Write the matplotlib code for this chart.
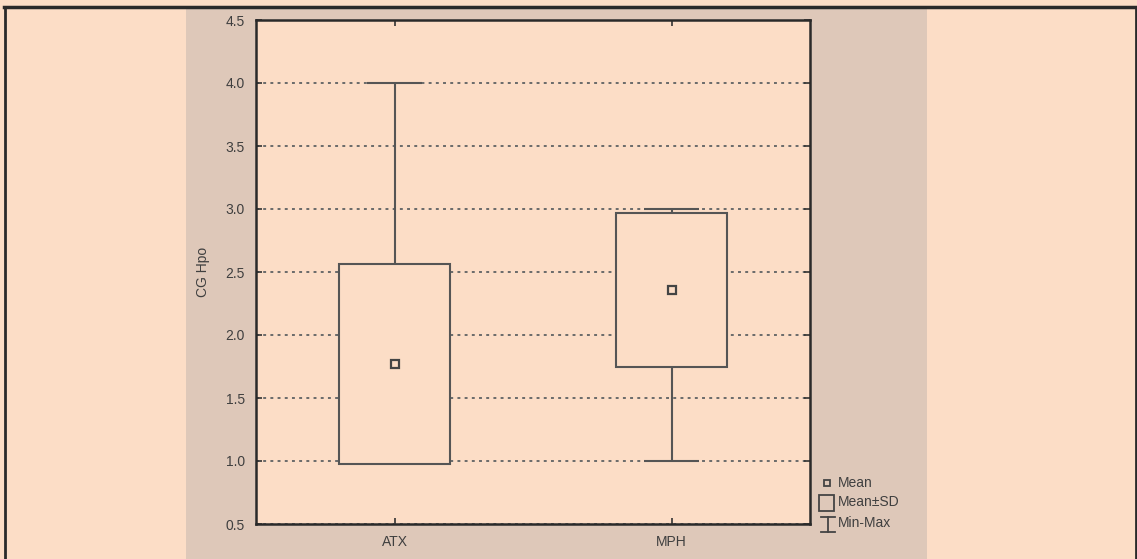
import matplotlib
matplotlib.use("Agg")
import matplotlib.pyplot as plt
from matplotlib.patches import Rectangle
from matplotlib.lines import Line2D

# data
groups = ["ATX", "MPH"]
means = [1.77, 2.36]
sds = [0.795, 0.61]
mins = [1.0, 1.0]
maxs = [4.0, 3.0]

W, H = 1137, 559
PEACH = "#FCDDC6"
PANEL = "#DEC8B9"
INK = "#555555"
TXT = "#3f3f3f"

plt.rcParams['font.family'] = ['Liberation Sans', 'DejaVu Sans']

fig = plt.figure(figsize=(W / 100, H / 100), dpi=100, facecolor=PEACH)

def fx(px):
    return px / W

def fy(py):
    return 1 - py / H

# grey panel behind the plot
fig.patches.append(Rectangle((fx(186), 0), fx(927) - fx(186), fy(7), transform=fig.transFigure,
                             facecolor=PANEL, edgecolor="none", zorder=-5))
# outer frame lines
fig.add_artist(Line2D([fx(4), fx(1136)], [fy(6.5), fy(6.5)], transform=fig.transFigure, color="#2a2a2a", lw=2.5))
fig.add_artist(Line2D([fx(4.5), fx(4.5)], [0, fy(6.5)], transform=fig.transFigure, color="#2a2a2a", lw=2))
fig.add_artist(Line2D([fx(1136), fx(1136)], [0, fy(6.5)], transform=fig.transFigure, color="#2a2a2a", lw=2))

ax = fig.add_axes([fx(256), fy(524), fx(810) - fx(256), fy(20) - fy(524)])
ax.set_zorder(1)
ax.set_facecolor(PEACH)

x = list(range(1, len(groups) + 1))
box_w = 0.404
cap_w = 0.2

# whiskers (under the box)
ax.vlines(x, mins, maxs, color=INK, lw=1.5, zorder=2)
ax.hlines(mins, [i - cap_w / 2 for i in x], [i + cap_w / 2 for i in x], color=INK, lw=1.5, zorder=2)
ax.hlines(maxs, [i - cap_w / 2 for i in x], [i + cap_w / 2 for i in x], color=INK, lw=1.5, zorder=2)

# mean +/- SD boxes
lows = [m - s for m, s in zip(means, sds)]
ax.bar(x, [2 * s for s in sds], bottom=lows, width=box_w, facecolor=PEACH, edgecolor=INK, lw=1.5, zorder=3)

# means
ax.plot(x, means, linestyle="none", marker="s", ms=5.5, mfc=PEACH, mec="#444444", mew=1.6, zorder=4)

ax.set_xlim(0.5, 2.5)
ax.set_ylim(0.5, 4.5)
ax.set_xticks(x)
ax.set_xticklabels(groups)
ax.set_yticks([0.5, 1.0, 1.5, 2.0, 2.5, 3.0, 3.5, 4.0, 4.5])
ax.set_yticklabels(["0.5", "1.0", "1.5", "2.0", "2.5", "3.0", "3.5", "4.0", "4.5"])
ax.tick_params(axis="y", direction="in", length=4, width=1.2, colors="#333333", labelsize=10,
               labelcolor=TXT, pad=8, right=True)
ax.tick_params(axis="x", direction="in", length=4, width=1.2, colors="#333333", labelsize=10,
               labelcolor=TXT, pad=8, top=True)
ax.grid(axis="y", color="#6a6a6a", linestyle=(0, (1.5, 2.2)), lw=1.4, zorder=1)
ax.set_axisbelow(True)
for sp in ax.spines.values():
    sp.set_color("#2a2a2a")
    sp.set_linewidth(1.8)

fig.text(fx(203), fy(272), "CG Hpo", rotation=90, ha="center", va="center", fontsize=10, color=TXT)

# legend drawn by hand
fig.add_artist(Line2D([fx(827)], [fy(483)], transform=fig.transFigure, marker="s", ms=4.5,
                      mfc=PANEL, mec="#444444", mew=1.3, linestyle="none"))
fig.patches.append(Rectangle((fx(819), fy(511)), fx(834) - fx(819), fy(495) - fy(511),
                             transform=fig.transFigure, facecolor="none", edgecolor="#444444", lw=1.3))
fig.add_artist(Line2D([fx(828), fx(828)], [fy(517), fy(532)], transform=fig.transFigure, color="#444444", lw=1.3))
fig.add_artist(Line2D([fx(821), fx(835)], [fy(517), fy(517)], transform=fig.transFigure, color="#444444", lw=1.3))
fig.add_artist(Line2D([fx(821), fx(835)], [fy(532), fy(532)], transform=fig.transFigure, color="#444444", lw=1.3))
for label, py in [("Mean", 483), ("Mean\u00b1SD", 502), ("Min-Max", 523)]:
    fig.text(fx(838), fy(py), label, ha="left", va="center", fontsize=10, color=TXT)

fig.savefig("out.png", dpi=100, facecolor=PEACH)
